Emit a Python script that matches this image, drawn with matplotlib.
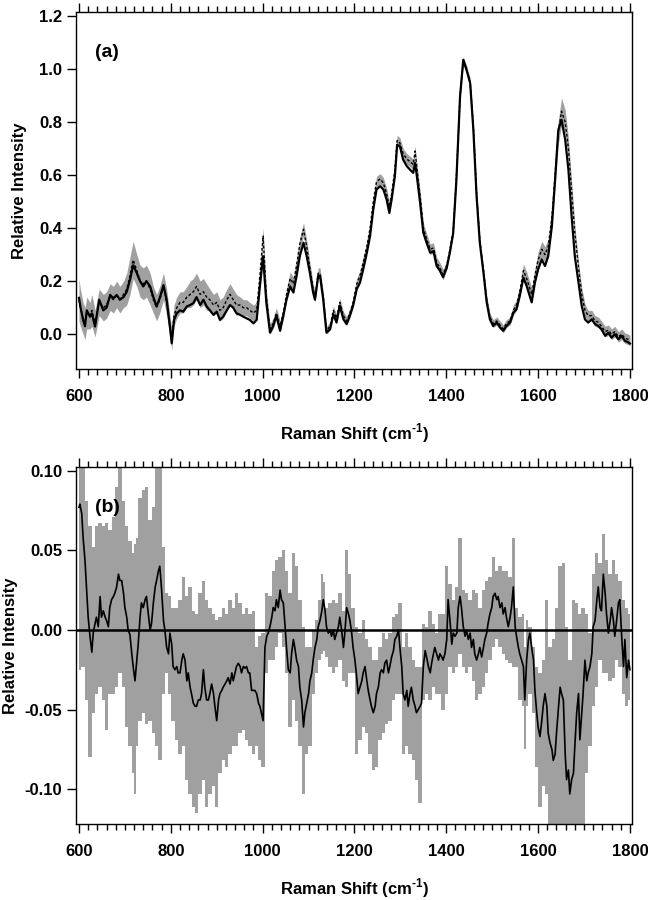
import numpy as np
import matplotlib
matplotlib.use("Agg")
import matplotlib.pyplot as plt
from matplotlib.ticker import MultipleLocator, FormatStrFormatter

plt.rcParams['font.family'] = ['Liberation Sans', 'DejaVu Sans']
plt.rcParams['font.weight'] = 'bold'
plt.rcParams['axes.unicode_minus'] = False
plt.rcParams['mathtext.fontset'] = 'custom'
plt.rcParams['mathtext.rm'] = 'Liberation Sans:bold'
plt.rcParams['mathtext.bf'] = 'Liberation Sans:bold'

# ---- panel (a): two spectra, grey band = spread around the dashed one ----
a_x = [600, 603, 609, 613, 617, 624, 628, 635, 644, 653,
       660, 668, 675, 682, 689, 697, 704, 711, 718, 726,
       733, 740, 747, 755, 762, 769, 776, 784, 791, 798,
       802, 807, 813, 820, 827, 835, 842, 849, 856, 864,
       871, 878, 885, 893, 900, 907, 914, 922, 929, 936,
       943, 951, 958, 965, 972, 980, 987, 994, 1001, 1008,
       1016, 1023, 1030, 1038, 1045, 1052, 1060, 1067, 1074, 1081,
       1089, 1096, 1103, 1110, 1114, 1121, 1125, 1132, 1139, 1147,
       1154, 1161, 1168, 1176, 1183, 1190, 1197, 1205, 1212, 1219,
       1227, 1234, 1241, 1248, 1256, 1263, 1270, 1276, 1281, 1288,
       1293, 1299, 1306, 1314, 1321, 1328, 1332, 1335, 1343, 1350,
       1357, 1365, 1372, 1379, 1386, 1393, 1401, 1408, 1415, 1422,
       1430, 1437, 1444, 1452, 1459, 1466, 1473, 1481, 1488, 1495,
       1502, 1510, 1517, 1524, 1531, 1539, 1546, 1553, 1560, 1568,
       1575, 1586, 1593, 1600, 1608, 1615, 1622, 1630, 1637, 1644,
       1651, 1659, 1666, 1673, 1680, 1688, 1695, 1702, 1709, 1717,
       1724, 1731, 1738, 1746, 1753, 1760, 1767, 1775, 1782, 1789,
       1797, 1800]
a_solid = [0.137, 0.105, 0.054, 0.03, 0.09, 0.066, 0.079, 0.029, 0.13, 0.09,
           0.10, 0.148, 0.135, 0.148, 0.13, 0.14, 0.16, 0.204, 0.26, 0.23,
           0.20, 0.18, 0.20, 0.18, 0.14, 0.105, 0.137, 0.185, 0.13, 0.03,
           -0.034, 0.054, 0.079, 0.09, 0.085, 0.105, 0.11, 0.117, 0.14, 0.11,
           0.13, 0.105, 0.09, 0.073, 0.085, 0.054, 0.066, 0.09, 0.11, 0.10,
           0.079, 0.073, 0.066, 0.06, 0.054, 0.041, 0.054, 0.18, 0.294, 0.12,
           0.006, 0.031, 0.069, 0.013, 0.069, 0.13, 0.18, 0.157, 0.22, 0.294,
           0.345, 0.294, 0.23, 0.157, 0.13, 0.22, 0.22, 0.13, 0.006, 0.019,
           0.075, 0.044, 0.107, 0.056, 0.038, 0.069, 0.107, 0.17, 0.194, 0.244,
           0.307, 0.37, 0.47, 0.545, 0.558, 0.545, 0.508, 0.457, 0.508, 0.595,
           0.714, 0.708, 0.658, 0.633, 0.62, 0.608, 0.645, 0.608, 0.495, 0.382,
           0.345, 0.307, 0.313, 0.257, 0.24, 0.215, 0.25, 0.31, 0.38, 0.58,
           0.896, 1.034, 0.996, 0.946, 0.77, 0.52, 0.345, 0.232, 0.12, 0.056,
           0.031, 0.044, 0.025, 0.013, 0.031, 0.044, 0.081, 0.094, 0.144, 0.213,
           0.182, 0.12, 0.194, 0.244, 0.282, 0.257, 0.294, 0.407, 0.583, 0.77,
           0.808, 0.733, 0.62, 0.445, 0.294, 0.194, 0.107, 0.056, 0.044, 0.056,
           0.038, 0.031, 0.019, -0.006, 0.006, -0.013, 0.0, -0.019, -0.006, -0.025,
           -0.031, -0.035]
a_dashed = [0.13, 0.10, 0.06, 0.04, 0.08, 0.07, 0.09, 0.04, 0.12, 0.10,
            0.11, 0.14, 0.13, 0.15, 0.13, 0.15, 0.17, 0.22, 0.28, 0.24,
            0.20, 0.19, 0.20, 0.17, 0.13, 0.10, 0.13, 0.18, 0.12, 0.03,
            -0.02, 0.07, 0.10, 0.12, 0.12, 0.14, 0.15, 0.16, 0.18, 0.15,
            0.16, 0.14, 0.13, 0.11, 0.12, 0.09, 0.10, 0.13, 0.15, 0.13,
            0.11, 0.11, 0.10, 0.10, 0.09, 0.08, 0.09, 0.22, 0.37, 0.14,
            0.02, 0.04, 0.08, 0.03, 0.08, 0.15, 0.21, 0.19, 0.26, 0.34,
            0.395, 0.33, 0.25, 0.17, 0.14, 0.23, 0.23, 0.14, 0.015, 0.03,
            0.09, 0.06, 0.12, 0.07, 0.05, 0.08, 0.12, 0.19, 0.22, 0.27,
            0.33, 0.40, 0.50, 0.575, 0.585, 0.57, 0.53, 0.48, 0.53, 0.62,
            0.73, 0.72, 0.68, 0.66, 0.65, 0.64, 0.69, 0.64, 0.52, 0.40,
            0.36, 0.32, 0.325, 0.27, 0.25, 0.225, 0.26, 0.32, 0.39, 0.59,
            0.90, 1.03, 1.0, 0.95, 0.78, 0.53, 0.355, 0.24, 0.13, 0.065,
            0.04, 0.05, 0.035, 0.02, 0.04, 0.05, 0.09, 0.11, 0.16, 0.24,
            0.21, 0.15, 0.22, 0.28, 0.32, 0.30, 0.33, 0.44, 0.60, 0.76,
            0.84, 0.80, 0.70, 0.54, 0.38, 0.25, 0.15, 0.09, 0.07, 0.07,
            0.05, 0.045, 0.03, 0.01, 0.015, 0.0, 0.01, -0.01, 0.0, -0.015,
            -0.02, -0.025]
a_sd = [0.08, 0.07, 0.06, 0.06, 0.06, 0.05, 0.06, 0.05, 0.05, 0.05,
        0.05, 0.05, 0.05, 0.05, 0.05, 0.05, 0.06, 0.07, 0.07, 0.06,
        0.06, 0.06, 0.06, 0.06, 0.05, 0.05, 0.05, 0.05, 0.05, 0.04,
        0.04, 0.04, 0.04, 0.04, 0.04, 0.04, 0.05, 0.05, 0.05, 0.05,
        0.05, 0.05, 0.04, 0.04, 0.04, 0.04, 0.04, 0.04, 0.04, 0.04,
        0.04, 0.03, 0.03, 0.03, 0.03, 0.03, 0.03, 0.03, 0.03, 0.03,
        0.02, 0.02, 0.02, 0.02, 0.02, 0.02, 0.025, 0.025, 0.025, 0.025,
        0.025, 0.025, 0.02, 0.02, 0.02, 0.02, 0.02, 0.02, 0.015, 0.015,
        0.015, 0.015, 0.015, 0.015, 0.015, 0.015, 0.015, 0.02, 0.02, 0.02,
        0.02, 0.02, 0.02, 0.02, 0.02, 0.02, 0.02, 0.02, 0.02, 0.02,
        0.02, 0.02, 0.02, 0.02, 0.02, 0.02, 0.02, 0.02, 0.02, 0.02,
        0.02, 0.02, 0.02, 0.02, 0.02, 0.02, 0.015, 0.015, 0.015, 0.015,
        0.015, 0.015, 0.015, 0.015, 0.01, 0.01, 0.01, 0.01, 0.015, 0.015,
        0.015, 0.015, 0.015, 0.015, 0.015, 0.015, 0.02, 0.02, 0.02, 0.025,
        0.025, 0.025, 0.025, 0.03, 0.03, 0.03, 0.03, 0.035, 0.04, 0.045,
        0.05, 0.045, 0.04, 0.035, 0.03, 0.025, 0.025, 0.025, 0.02, 0.02,
        0.02, 0.02, 0.02, 0.02, 0.02, 0.02, 0.02, 0.02, 0.02, 0.02,
        0.02, 0.02]

# ---- panel (b): difference spectrum and its spread ----
b_x = [600, 602, 606, 609, 613, 617, 620, 624, 628, 631,
       635, 638, 642, 646, 649, 653, 657, 660, 664, 667,
       671, 675, 678, 682, 686, 689, 693, 697, 700, 704,
       707, 711, 715, 718, 722, 726, 729, 733, 736, 740,
       744, 747, 751, 755, 758, 762, 766, 769, 773, 776,
       780, 784, 787, 791, 795, 798, 802, 805, 809, 813,
       816, 820, 824, 827, 831, 835, 838, 842, 845, 849,
       853, 856, 860, 864, 867, 871, 874, 878, 882, 885,
       889, 893, 896, 900, 904, 907, 911, 914, 918, 922,
       925, 929, 933, 936, 940, 943, 947, 951, 954, 958,
       962, 965, 969, 972, 976, 980, 983, 987, 991, 994,
       998, 1001, 1005, 1009, 1012, 1016, 1020, 1023, 1027, 1030,
       1034, 1038, 1041, 1045, 1049, 1052, 1056, 1060, 1063, 1067,
       1070, 1074, 1078, 1081, 1085, 1089, 1092, 1096, 1100, 1103,
       1107, 1110, 1114, 1118, 1121, 1125, 1129, 1132, 1136, 1139,
       1143, 1147, 1150, 1154, 1157, 1161, 1165, 1168, 1172, 1176,
       1179, 1183, 1187, 1190, 1194, 1197, 1201, 1205, 1208, 1212,
       1216, 1219, 1223, 1227, 1230, 1234, 1237, 1241, 1245, 1248,
       1252, 1256, 1259, 1263, 1266, 1270, 1274, 1277, 1281, 1285,
       1288, 1292, 1296, 1299, 1303, 1306, 1310, 1314, 1317, 1321,
       1324, 1328, 1332, 1335, 1339, 1343, 1346, 1350, 1354, 1357,
       1361, 1365, 1368, 1372, 1375, 1379, 1383, 1386, 1390, 1393,
       1397, 1401, 1404, 1408, 1412, 1415, 1419, 1423, 1426, 1430,
       1433, 1437, 1441, 1444, 1448, 1452, 1455, 1459, 1462, 1466,
       1470, 1473, 1477, 1481, 1484, 1488, 1491, 1495, 1499, 1502,
       1506, 1510, 1513, 1517, 1521, 1524, 1528, 1531, 1535, 1539,
       1542, 1546, 1550, 1553, 1557, 1560, 1564, 1568, 1571, 1575,
       1579, 1582, 1586, 1590, 1593, 1597, 1600, 1604, 1608, 1611,
       1615, 1619, 1622, 1626, 1630, 1633, 1637, 1640, 1644, 1648,
       1651, 1655, 1659, 1662, 1666, 1669, 1673, 1677, 1680, 1684,
       1688, 1691, 1695, 1698, 1702, 1706, 1709, 1713, 1717, 1720,
       1724, 1728, 1731, 1735, 1738, 1742, 1746, 1749, 1753, 1757,
       1760, 1764, 1767, 1771, 1775, 1778, 1782, 1786, 1789, 1793,
       1797, 1800]
b_diff = [0.077, 0.079, 0.073, 0.058, 0.044, 0.023, 0.008, -0.004, -0.014, -0.002,
          0.004, 0.008, 0.002, 0.021, 0.008, 0.012, 0.008, 0.006, 0.002, 0.014,
          0.019, 0.021, 0.023, 0.027, 0.035, 0.031, 0.031, 0.023, 0.014, 0.008,
          0.0, -0.003, -0.015, -0.023, -0.032, -0.019, -0.009, 0.008, 0.017, 0.014,
          0.019, 0.021, 0.010, 0.0, 0.004, 0.017, 0.027, 0.031, 0.037, 0.040,
          0.025, 0.006, 0.0, -0.011, -0.015, -0.002, -0.009, -0.023, -0.025, -0.023,
          -0.027, -0.027, -0.019, -0.015, -0.019, -0.032, -0.027, -0.036, -0.040, -0.046,
          -0.048, -0.048, -0.044, -0.044, -0.040, -0.025, -0.036, -0.044, -0.044, -0.040,
          -0.034, -0.040, -0.048, -0.057, -0.044, -0.040, -0.038, -0.036, -0.034, -0.032,
          -0.030, -0.034, -0.027, -0.032, -0.027, -0.023, -0.021, -0.023, -0.027, -0.023,
          -0.024, -0.023, -0.027, -0.027, -0.038, -0.038, -0.038, -0.040, -0.046, -0.048,
          -0.053, -0.057, -0.011, -0.004, -0.002, 0.002, 0.008, 0.014, 0.012, 0.019,
          0.014, 0.025, 0.019, 0.017, 0.002, -0.011, -0.025, -0.027, -0.015, -0.006,
          -0.011, -0.019, -0.023, -0.036, -0.044, -0.061, -0.052, -0.046, -0.040, -0.032,
          -0.027, -0.019, -0.011, -0.006, 0.002, 0.006, 0.012, 0.019, 0.012, 0.002,
          -0.002, 0.0, -0.004, 0.0, -0.006, -0.002, 0.002, 0.008, 0.0, -0.011,
          -0.002, 0.014, 0.010, 0.006, -0.002, -0.011, -0.019, -0.030, -0.040, -0.036,
          -0.032, -0.027, -0.023, -0.032, -0.038, -0.044, -0.048, -0.052, -0.048, -0.040,
          -0.036, -0.027, -0.025, -0.027, -0.021, -0.019, -0.027, -0.023, -0.017, -0.013,
          -0.006, -0.004, 0.0, -0.011, -0.023, -0.040, -0.044, -0.038, -0.048, -0.040,
          -0.036, -0.044, -0.048, -0.052, -0.050, -0.048, -0.046, -0.023, -0.013, -0.017,
          -0.023, -0.027, -0.021, -0.015, -0.011, -0.015, -0.019, -0.015, -0.017, -0.019,
          -0.015, -0.006, 0.019, 0.006, -0.009, -0.002, -0.004, -0.002, 0.014, 0.021,
          0.014, 0.002, -0.004, 0.0, -0.006, -0.002, -0.011, -0.006, -0.015, -0.019,
          -0.015, -0.011, -0.017, -0.011, -0.006, -0.002, 0.004, 0.010, 0.014, 0.021,
          0.023, 0.019, 0.021, 0.014, 0.017, 0.010, 0.014, 0.008, 0.002, 0.008,
          0.014, 0.027, 0.002, -0.004, -0.011, -0.015, -0.019, -0.023, -0.044, -0.019,
          -0.006, -0.002, -0.011, -0.019, -0.038, -0.052, -0.061, -0.067, -0.057, -0.048,
          -0.040, -0.048, -0.065, -0.071, -0.075, -0.082, -0.078, -0.065, -0.050, -0.036,
          -0.040, -0.044, -0.078, -0.094, -0.088, -0.103, -0.094, -0.090, -0.073, -0.052,
          -0.040, -0.069, -0.052, -0.040, -0.019, -0.032, -0.027, -0.023, -0.015, 0.002,
          0.006, 0.019, 0.027, 0.014, 0.012, 0.035, 0.023, 0.010, -0.002, 0.006,
          0.014, 0.006, -0.004, 0.006, 0.017, 0.019, -0.004, -0.023, -0.006, -0.030,
          -0.019, -0.025]

band_x = [600, 609, 617, 624, 631, 638, 646, 653, 660, 667,
          675, 682, 689, 697, 704, 711, 718, 722, 726, 733,
          740, 747, 755, 762, 769, 776, 784, 791, 798, 805,
          813, 820, 827, 835, 842, 849, 856, 864, 871, 878,
          885, 893, 900, 907, 914, 922, 929, 936, 943, 951,
          958, 965, 972, 980, 987, 994, 1001, 1009, 1016, 1023,
          1030, 1038, 1045, 1052, 1060, 1067, 1074, 1081, 1089, 1096,
          1103, 1110, 1118, 1125, 1129, 1132, 1139, 1147, 1154, 1161,
          1168, 1176, 1183, 1190, 1197, 1205, 1212, 1219, 1227, 1234,
          1241, 1248, 1256, 1263, 1270, 1277, 1285, 1292, 1299, 1306,
          1314, 1321, 1328, 1335, 1343, 1350, 1357, 1365, 1372, 1379,
          1386, 1393, 1401, 1408, 1415, 1423, 1430, 1437, 1444, 1452,
          1459, 1466, 1473, 1481, 1488, 1495, 1502, 1510, 1517, 1524,
          1531, 1539, 1546, 1553, 1560, 1568, 1571, 1575, 1582, 1590,
          1597, 1604, 1611, 1619, 1626, 1633, 1640, 1648, 1655, 1662,
          1669, 1677, 1684, 1691, 1698, 1706, 1713, 1720, 1728, 1735,
          1742, 1749, 1757, 1764, 1771, 1778, 1786, 1793, 1800]
band_hi = [0.11, 0.11, 0.081, 0.065, 0.052, 0.065, 0.067, 0.065, 0.067, 0.063,
           0.071, 0.090, 0.11, 0.081, 0.065, 0.056, 0.048, 0.054, 0.058, 0.083,
           0.088, 0.090, 0.069, 0.077, 0.11, 0.11, 0.052, 0.023, 0.021, 0.014,
           0.014, 0.019, 0.033, 0.021, 0.027, 0.012, 0.010, 0.023, 0.031, 0.019,
           0.014, 0.010, 0.006, 0.008, 0.014, 0.010, 0.019, 0.014, 0.023, 0.017,
           0.010, 0.014, 0.010, 0.012, -0.011, -0.004, -0.002, 0.023, 0.021, 0.037,
           0.044, 0.046, 0.050, 0.037, 0.023, 0.048, 0.040, 0.019, 0.002, -0.011,
           -0.011, 0.0, 0.006, 0.019, 0.035, 0.03, 0.014, 0.017, 0.019, 0.017,
           0.023, 0.012, 0.050, 0.035, 0.014, 0.002, -0.002, 0.006, -0.006, -0.011,
           -0.019, -0.019, -0.011, -0.002, -0.006, -0.002, 0.008, 0.010, 0.017, -0.011,
           -0.002, -0.011, -0.019, -0.023, -0.023, 0.004, 0.002, 0.012, 0.004, -0.002,
           0.010, 0.010, 0.040, 0.029, 0.019, 0.027, 0.058, 0.025, 0.023, 0.019,
           0.025, 0.023, 0.014, 0.025, 0.031, 0.033, 0.046, 0.037, 0.040, 0.037,
           0.037, 0.033, 0.058, 0.014, 0.008, 0.010, -0.011, 0.006, 0.002, -0.011,
           -0.023, -0.027, -0.019, 0.019, -0.011, -0.006, 0.014, 0.040, 0.042, 0.002,
           -0.019, 0.019, 0.017, 0.010, 0.014, 0.010, -0.002, 0.035, 0.048, 0.042,
           0.060, 0.044, 0.035, 0.044, 0.035, 0.031, 0.019, 0.014, 0.010]
band_lo = [-0.025, -0.023, -0.044, -0.080, -0.052, -0.040, -0.036, -0.044, -0.063, -0.040,
           -0.040, -0.036, -0.027, -0.036, -0.061, -0.073, -0.090, -0.103, -0.073, -0.057,
           -0.052, -0.059, -0.057, -0.065, -0.073, -0.082, -0.040, -0.027, -0.040, -0.057,
           -0.069, -0.078, -0.073, -0.094, -0.103, -0.111, -0.115, -0.103, -0.094, -0.111,
           -0.103, -0.098, -0.111, -0.090, -0.082, -0.086, -0.078, -0.073, -0.073, -0.065,
           -0.063, -0.069, -0.073, -0.078, -0.073, -0.082, -0.086, -0.027, -0.019, -0.019,
           -0.011, -0.002, -0.011, -0.027, -0.061, -0.044, -0.057, -0.073, -0.103, -0.078,
           -0.073, -0.040, -0.027, -0.019, -0.015, -0.013, -0.017, -0.023, -0.027, -0.023,
           -0.019, -0.032, -0.036, -0.027, -0.027, -0.078, -0.069, -0.061, -0.065, -0.078,
           -0.088, -0.086, -0.069, -0.065, -0.059, -0.057, -0.044, -0.040, -0.040, -0.078,
           -0.073, -0.078, -0.082, -0.094, -0.109, -0.044, -0.040, -0.044, -0.036, -0.040,
           -0.040, -0.050, -0.040, -0.023, -0.027, -0.023, -0.015, -0.023, -0.027, -0.023,
           -0.032, -0.044, -0.040, -0.036, -0.027, -0.019, -0.011, -0.006, -0.011, -0.015,
           -0.019, -0.021, -0.023, -0.023, -0.044, -0.048, -0.075, -0.048, -0.040, -0.052,
           -0.086, -0.111, -0.098, -0.103, -0.13, -0.13, -0.13, -0.13, -0.13, -0.13,
           -0.13, -0.13, -0.13, -0.13, -0.13, -0.090, -0.073, -0.048, -0.036, -0.019,
           -0.027, -0.027, -0.032, -0.030, -0.019, -0.023, -0.040, -0.048, -0.044]

grey = '#a0a0a0'

fig = plt.figure(figsize=(6.48, 9), dpi=100)
ax1 = fig.add_axes([76 / 648, 1 - 369 / 900, 556 / 648, 357 / 900])
ax2 = fig.add_axes([76 / 648, 1 - 824 / 900, 556 / 648, 357 / 900])

ad = np.array(a_dashed)
asd = np.array(a_sd)
ax1.fill_between(a_x, ad - asd, ad + asd, color=grey, lw=0)
ax1.plot(a_x, a_dashed, color='black', lw=1.0, ls=(0, (2, 1.5)))
ax1.plot(a_x, a_solid, color='black', lw=1.6)

ax2.fill_between(band_x, band_lo, band_hi, color=grey, lw=0, step='mid')
ax2.axhline(0, color='black', lw=1.8)
ax2.plot(b_x, b_diff, color='black', lw=1.2)

ax1.set_ylim(-0.131, 1.214)
ax2.set_ylim(-0.1219, 0.1023)
ax1.yaxis.set_major_locator(MultipleLocator(0.2))
ax1.yaxis.set_major_formatter(FormatStrFormatter('%.1f'))
ax2.yaxis.set_major_locator(MultipleLocator(0.05))
ax2.yaxis.set_major_formatter(FormatStrFormatter('%.2f'))

for ax, tag, ylx in [(ax1, '(a)', -0.1025), (ax2, '(b)', -0.1187)]:
    ax.set_xlim(593.5, 1804.5)
    ax.xaxis.set_major_locator(MultipleLocator(200))
    ax.xaxis.set_minor_locator(MultipleLocator(20))
    ax.tick_params(axis='x', which='both', direction='out', top=True, bottom=True,
                   labeltop=False, labelsize=12, pad=8, width=1)
    ax.tick_params(axis='x', which='major', length=6.5)
    ax.tick_params(axis='x', which='minor', length=4)
    ax.tick_params(axis='y', which='major', direction='out', left=True, right=False,
                   length=6.5, width=1, labelsize=12, pad=3.5)
    for s in ax.spines.values():
        s.set_linewidth(1.0)
    ax.set_xlabel(r'Raman Shift (cm$^{\text{-1}}$)', fontsize=12, fontweight='bold')
    ax.xaxis.set_label_coords(0.5, -0.147)
    ax.set_ylabel('Relative Intensity', fontsize=12, fontweight='bold')
    ax.yaxis.set_label_coords(ylx, 0.5)
    ax.yaxis.label.set_va('center')
    ax.text(0.034, 0.887, tag, transform=ax.transAxes, fontsize=14,
            fontweight='bold', va='center', ha='left')

fig.savefig('out.png', dpi=100)
